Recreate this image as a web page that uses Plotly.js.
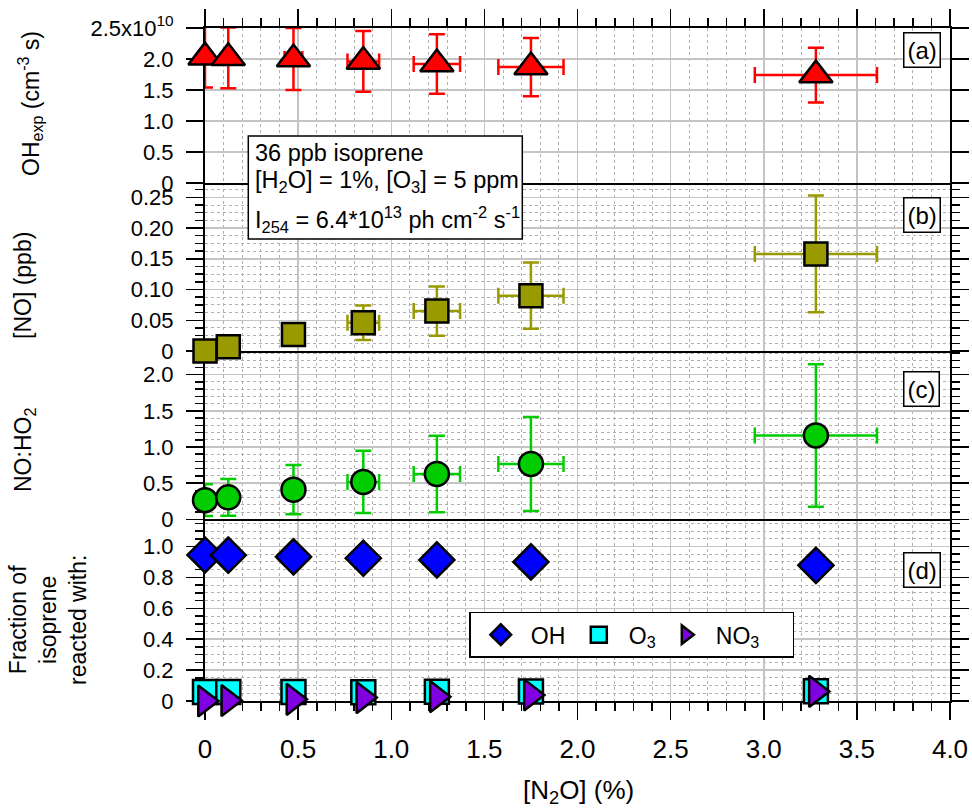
<!DOCTYPE html>
<html>
<head>
<meta charset="utf-8">
<script src="https://cdn.plot.ly/plotly-3.0.1.min.js"></script>
<style>
  html, body { margin: 0; padding: 0; background: #fff; }
  #chart { width: 972px; height: 809px; }
</style>
</head>
<body>
<div id="chart"></div>
<script>
// N2O added to the chamber (%) and its uncertainty
const n2o    = [0, 0.125, 0.475, 0.85, 1.245, 1.75, 3.28];
const n2oErr = [0, 0.0125, 0.0475, 0.085, 0.1245, 0.175, 0.328];

// (a) OH exposure (cm^-3 s)
const ohExp    = [2.03e10, 2.02e10, 2.00e10, 1.96e10, 1.92e10, 1.87e10, 1.74e10];
const ohExpErr = [0.49e10, 0.49e10, 0.50e10, 0.49e10, 0.48e10, 0.47e10, 0.44e10];

// (b) NO mixing ratio (ppb)
const noPpb    = [0.0, 0.007, 0.027, 0.046, 0.065, 0.090, 0.158];
const noPpbErr = [0.0, 0.004, 0.016, 0.028, 0.040, 0.054, 0.095];

// (c) NO:HO2 ratio
const noHo2    = [0.265, 0.304, 0.41, 0.517, 0.627, 0.766, 1.16];
const noHo2Err = [0.22, 0.254, 0.34, 0.43, 0.53, 0.65, 0.986];

// (d) fraction of isoprene reacted with each oxidant
const fracOH  = [0.945, 0.944, 0.933, 0.924, 0.913, 0.900, 0.878];
const fracO3  = [0.058, 0.058, 0.058, 0.056, 0.060, 0.062, 0.063];
const fracNO3 = [0.000, 0.003, 0.011, 0.022, 0.028, 0.039, 0.062];

// Oxidant names for the legend
const oxidantNames = ['OH', 'O<sub>3</sub>', 'NO<sub>3</sub>'];

// Tick values and labels
const xTickVals = [0, 0.5, 1.0, 1.5, 2.0, 2.5, 3.0, 3.5, 4.0];
const xTickText = ['0', '0.5', '1.0', '1.5', '2.0', '2.5', '3.0', '3.5', '4.0'];
const aTickVals = [0, 0.5e10, 1.0e10, 1.5e10, 2.0e10, 2.5e10];
const aTickText = ['0', '0.5', '1.0', '1.5', '2.0', '2.5x10<sup>10</sup>'];
const bTickVals = [0, 0.05, 0.10, 0.15, 0.20, 0.25];
const bTickText = ['0', '0.05', '0.10', '0.15', '0.20', '0.25'];
const cTickVals = [0, 0.5, 1.0, 1.5, 2.0];
const cTickText = ['0', '0.5', '1.0', '1.5', '2.0'];
const dTickVals = [0, 0.2, 0.4, 0.6, 0.8, 1.0];
const dTickText = ['0', '0.2', '0.4', '0.6', '0.8', '1.0'];

// ---- page geometry (pixels) ----
const W = 972, H = 809;
const M = { l: 205, r: 22, t: 28, b: 108 };
const PW = W - M.l - M.r, PH = H - M.t - M.b;
const px2x = px => (px - M.l) / PW;
const py2y = py => (H - M.b - py) / PH;

// Panel boundaries in pixels (bottom, top)
const yA = [183, 28], yB = [351, 183], yC = [519.3, 351], yD = [701, 519.3];

const FONT = 'Liberation Sans, Arial, Helvetica, sans-serif';
const OUTLINE = { color: '#000', width: 2.5 };

function errBar(arr, color) {
  return { type: 'data', array: arr, visible: true, color: color, thickness: 2.5, width: 8 };
}

const traces = [
  {
    x: n2o, y: ohExp, xaxis: 'x4', yaxis: 'y4', type: 'scatter', mode: 'markers',
    marker: { symbol: 'triangle-up', size: 29, color: '#ff0000', line: OUTLINE },
    error_y: errBar(ohExpErr, '#ff0000'), error_x: errBar(n2oErr, '#ff0000'),
    cliponaxis: false, showlegend: false, hoverinfo: 'skip'
  },
  {
    x: n2o, y: noPpb, xaxis: 'x3', yaxis: 'y3', type: 'scatter', mode: 'markers',
    marker: { symbol: 'square', size: 23, color: '#999900', line: OUTLINE },
    error_y: errBar(noPpbErr, '#999900'), error_x: errBar(n2oErr, '#999900'),
    cliponaxis: false, showlegend: false, hoverinfo: 'skip'
  },
  {
    x: n2o, y: noHo2, xaxis: 'x2', yaxis: 'y2', type: 'scatter', mode: 'markers',
    marker: { symbol: 'circle', size: 24, color: '#00cc00', line: OUTLINE },
    error_y: errBar(noHo2Err, '#00cc00'), error_x: errBar(n2oErr, '#00cc00'),
    cliponaxis: false, showlegend: false, hoverinfo: 'skip'
  },
  {
    x: n2o, y: fracOH, xaxis: 'x', yaxis: 'y', type: 'scatter', mode: 'markers',
    name: oxidantNames[0], legendwidth: 33,
    marker: { symbol: 'diamond', size: 27, color: '#0000ff', line: OUTLINE },
    cliponaxis: false, hoverinfo: 'skip'
  },
  {
    x: n2o, y: fracO3, xaxis: 'x', yaxis: 'y', type: 'scatter', mode: 'markers',
    name: oxidantNames[1], legendwidth: 22,
    marker: { symbol: 'square', size: 24, color: '#00ffff', line: OUTLINE },
    cliponaxis: false, hoverinfo: 'skip'
  },
  {
    x: n2o, y: fracNO3, xaxis: 'x', yaxis: 'y', type: 'scatter', mode: 'markers',
    name: oxidantNames[2], legendwidth: 72,
    marker: { symbol: 'triangle-right', size: 27, color: '#7f00e0', line: OUTLINE },
    cliponaxis: false, hoverinfo: 'skip'
  }
];

const GRID = '#c4c4c4', MINORGRID = '#b0b0b0';

function xAxis(anchor, opts) {
  const ax = {
    anchor: anchor, domain: [0, 1], range: [0, 4],
    showline: true, linecolor: '#000', linewidth: 2, zeroline: false,
    tickmode: 'array', tickvals: xTickVals, ticktext: xTickText,
    showticklabels: false, ticks: '',
    showgrid: true, gridcolor: GRID, gridwidth: 1.5,
    minor: { tickmode: 'linear', tick0: 0, dtick: 0.1, showgrid: true, gridcolor: MINORGRID, griddash: 'dot', gridwidth: 1, ticks: '' },
    layer: 'below traces', fixedrange: true
  };
  if (anchor !== 'y') ax.matches = 'x';
  return Object.assign(ax, opts);
}

function yAxis(anchor, dom, range, vals, text, minorDtick) {
  const ax = {
    anchor: anchor, domain: [py2y(dom[0]), py2y(dom[1])], range: range,
    showline: true, linecolor: '#000', linewidth: 2, mirror: 'ticks', zeroline: false,
    tickmode: 'array', tickvals: vals, ticktext: text,
    ticks: 'outside', ticklen: 17, tickwidth: 1.5, tickcolor: '#000',
    ticklabelstandoff: 8,
    tickfont: { family: FONT, size: 22, color: '#000' },
    showgrid: true, gridcolor: GRID, gridwidth: 1.5,
    layer: 'below traces', fixedrange: true
  };
  if (minorDtick) {
    ax.minor = { tickmode: 'linear', tick0: 0, dtick: minorDtick, ticks: 'outside', ticklen: 8, tickwidth: 1.5, tickcolor: '#000',
                 showgrid: true, gridcolor: MINORGRID, griddash: 'dot', gridwidth: 1 };
  }
  return ax;
}

const ann = [];
function label(text, x, y, size, extra) {
  ann.push(Object.assign({
    text: text, xref: 'paper', yref: 'paper', x: px2x(x), y: py2y(y),
    xanchor: 'center', yanchor: 'middle',
    showarrow: false, font: { family: FONT, size: size, color: '#000' }
  }, extra || {}));
}

// axis titles
label('OH<sub>exp</sub> (cm<sup>-3</sup> s)', 30, 104, 23, { textangle: -90 });
label('[NO] (ppb)', 23, 286, 23, { textangle: -90 });
label('NO:HO<sub>2</sub>', 24, 450, 23, { textangle: -90 });
label('Fraction of<br>isoprene<br>reacted with:', 48, 620, 23, { textangle: -90 });
label('[N<sub>2</sub>O] (%)', 578, 791, 26);

// panel tags
const tag = { bordercolor: '#000', borderwidth: 1.5, borderpad: 3, bgcolor: '#fff' };
label('(a)', 921.5, 50, 24, tag);
label('(b)', 921.5, 215, 24, tag);
label('(c)', 921.5, 388.7, 24, tag);
label('(d)', 921.5, 570, 24, tag);

// experimental conditions
label('36 ppb isoprene', 253, 153, 23.5, { xanchor: 'left' });
label('[H<sub>2</sub>O] = 1%, [O<sub>3</sub>] = 5 ppm', 253, 182, 23.5, { xanchor: 'left' });
label('I<sub>254</sub> = 6.4*10<sup>13</sup> ph cm<sup>-2</sup> s<sup>-1</sup>', 253, 219, 23.5, { xanchor: 'left' });

const layout = {
  width: W, height: H, margin: M,
  paper_bgcolor: '#fff', plot_bgcolor: '#fff',
  font: { family: FONT, size: 22, color: '#000' },
  xaxis: xAxis('y', {
    showticklabels: true, ticks: 'outside', ticklen: 17, tickwidth: 1.5, tickcolor: '#000',
    ticklabelstandoff: 7, tickfont: { family: FONT, size: 26, color: '#000' },
    minor: { tickmode: 'linear', tick0: 0, dtick: 0.1, ticks: 'outside', ticklen: 8, tickwidth: 1.5, tickcolor: '#000',
             showgrid: true, gridcolor: MINORGRID, griddash: 'dot', gridwidth: 1 }
  }),
  xaxis2: xAxis('y2'),
  xaxis3: xAxis('y3'),
  xaxis4: xAxis('y4', {
    side: 'top', mirror: true, ticks: 'outside', ticklen: 17, tickwidth: 1.5, tickcolor: '#000',
    minor: { tickmode: 'linear', tick0: 0, dtick: 0.1, ticks: 'outside', ticklen: 8, tickwidth: 1.5, tickcolor: '#000',
             showgrid: true, gridcolor: MINORGRID, griddash: 'dot', gridwidth: 1 }
  }),
  yaxis:  yAxis('x',  yD, [0, 1.176], dTickVals, dTickText, 0.05),
  yaxis2: yAxis('x2', yC, [0, 2.328], cTickVals, cTickText, 0.1),
  yaxis3: yAxis('x3', yB, [0, 0.2733], bTickVals, bTickText, 0.0125),
  yaxis4: yAxis('x4', yA, [0, 2.5e10], aTickVals, aTickText, null),
  legend: {
    orientation: 'h', x: px2x(469.3), y: py2y(611.7), xanchor: 'left', yanchor: 'top',
    bordercolor: '#000', borderwidth: 1.5, bgcolor: '#fff',
    font: { family: FONT, size: 23, color: '#000' }, itemwidth: 50
  },
  shapes: [{
    type: 'rect', xref: 'paper', yref: 'paper', layer: 'above',
    x0: px2x(248.3), x1: px2x(522.3), y0: py2y(239), y1: py2y(136),
    fillcolor: '#fff', line: { color: '#000', width: 1.5 }
  }],
  annotations: ann
};

Plotly.newPlot('chart', traces, layout, { displayModeBar: false, staticPlot: true });
</script>
</body>
</html>
